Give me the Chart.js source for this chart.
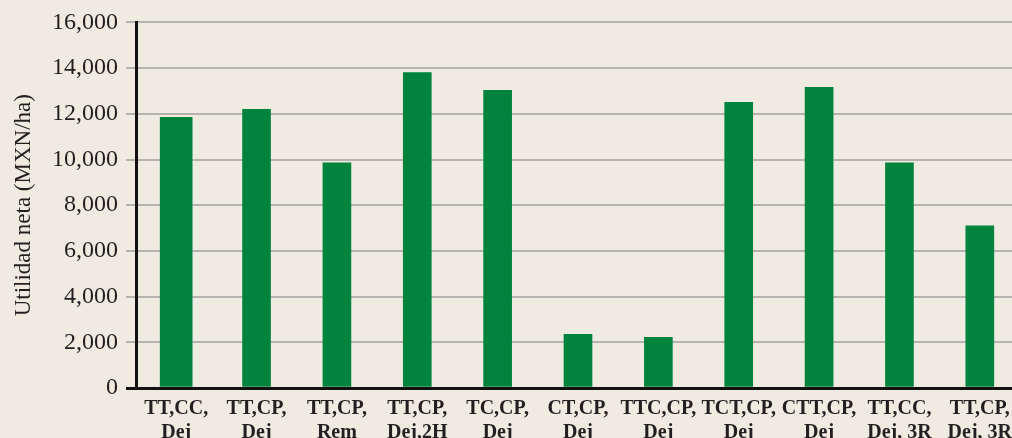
<!DOCTYPE html>
<html>
<head>
<meta charset="utf-8">
<script src="https://cdn.jsdelivr.net/npm/chart.js@4.4.1/dist/chart.umd.min.js"></script>
<style>
  html, body { margin: 0; padding: 0; background: #efebe1; overflow: hidden; }
  #wrap { position: relative; width: 1020px; height: 438px; }
</style>
</head>
<body>
<div id="wrap"><canvas id="c"></canvas></div>
<script>
const categories = [
  ["TT,CC,", "Dej"], ["TT,CP,", "Dej"], ["TT,CP,", "Rem"], ["TT,CP,", "Dej,2H"],
  ["TC,CP,", "Dej"], ["CT,CP,", "Dej"], ["TTC,CP,", "Dej"], ["TCT,CP,", "Dej"],
  ["CTT,CP,", "Dej"], ["TT,CC,", "Dej, 3R"], ["TT,CP,", "Dej, 3R"]
];
const utilidad = [11850, 12200, 9850, 13800, 13030, 2350, 2220, 12500, 13160, 9850, 7100];
const yTicks = [0, 2000, 4000, 6000, 8000, 10000, 12000, 14000, 16000];
const yTitle = "Utilidad neta (MXN/ha)";
const wideBars = [0];

const green = "#00843d";
const serif = "'Liberation Serif', 'DejaVu Serif', serif";

const wideData = utilidad.map((v, i) => wideBars.includes(i) ? v : null);
const narrowData = utilidad.map((v, i) => wideBars.includes(i) ? null : v);

new Chart(document.getElementById("c"), {
  type: "bar",
  data: {
    labels: categories,
    datasets: [
      { data: wideData, backgroundColor: green, barThickness: 32, grouped: false },
      { data: narrowData, backgroundColor: green, barThickness: 28, grouped: false }
    ]
  },
  options: {
    responsive: true,
    maintainAspectRatio: false,
    animation: false,
    devicePixelRatio: 1,
    layout: { padding: { top: 20, left: 0, right: 0, bottom: 0 } },
    plugins: { legend: { display: false }, tooltip: { enabled: false } },
    scales: {
      x: {
        grid: { display: false },
        border: { display: false },
        ticks: {
          color: "#231f20",
          font: { family: serif, size: 20, weight: "bold", lineHeight: 1.2 },
          padding: 1,
          maxRotation: 0,
          autoSkip: false
        },
        afterFit: (s) => { s.height = 50; }
      },
      y: {
        min: 0, max: 16000,
        afterBuildTicks: (s) => { s.ticks = yTicks.map(v => ({ value: v })); },
        border: { display: true, color: "#111", width: 3 },
        grid: {
          color: (ctx) => ctx.tick && ctx.tick.value === 0 ? "#111" : "#b5b3ae",
          lineWidth: (ctx) => ctx.tick && ctx.tick.value === 0 ? 3 : 2,
          tickLength: 10,
          drawTicks: true
        },
        ticks: {
          color: "#231f20",
          font: { family: serif, size: 24 },
          padding: 8,
          callback: (v) => v.toLocaleString("en-US")
        },
        title: {
          display: true,
          text: yTitle,
          color: "#231f20",
          font: { family: serif, size: 23 },
          padding: { top: 10, bottom: 0 }
        },
        afterFit: (s) => { s.width = 136; }
      }
    }
  }
});
</script>
</body>
</html>
